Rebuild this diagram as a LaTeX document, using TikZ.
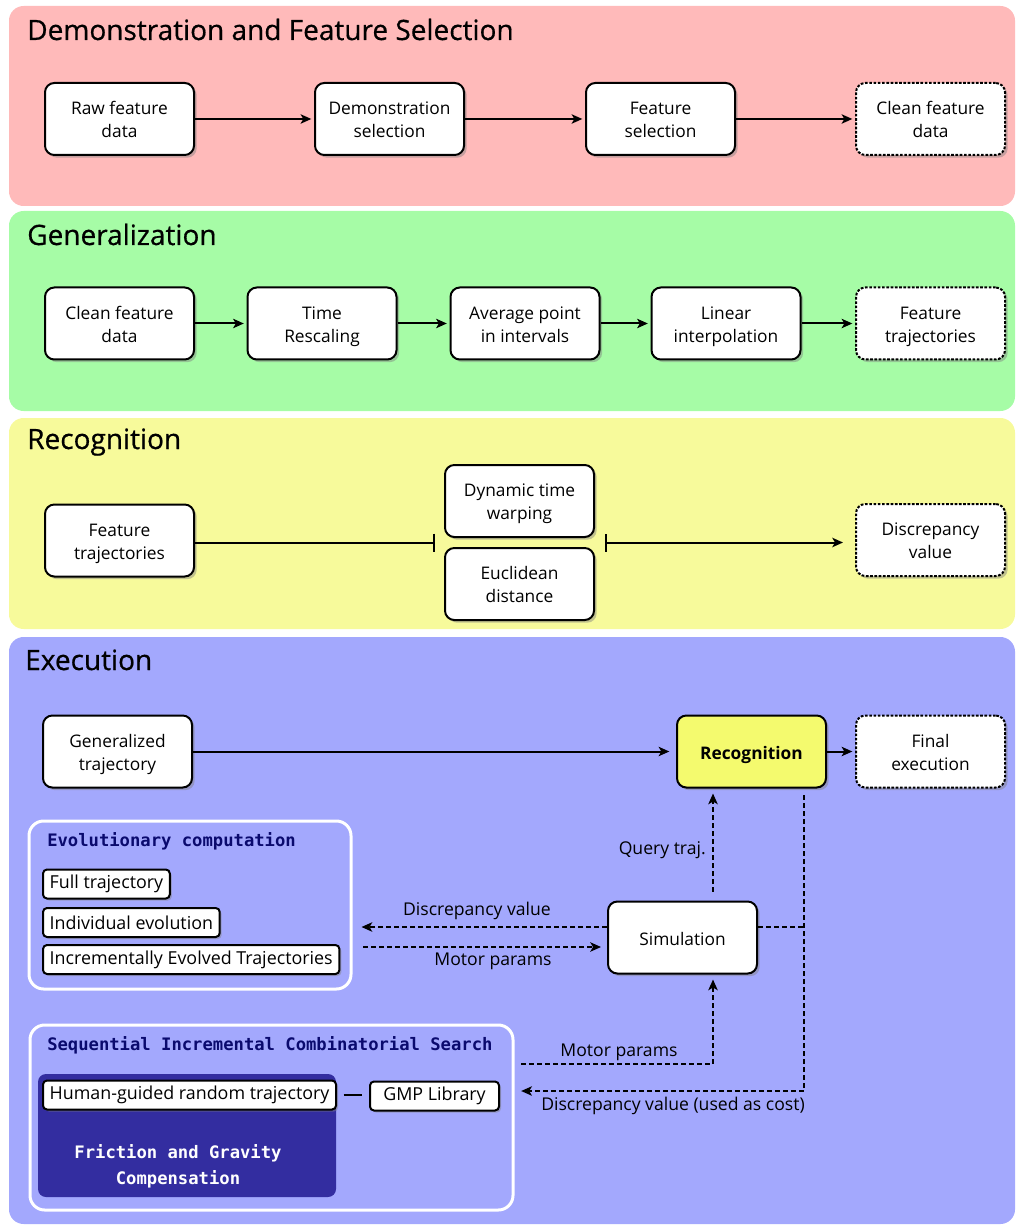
\documentclass[tikz,border=0pt]{standalone}
\usepackage{fontspec}
\setmainfont{Open Sans}
\newfontfamily\titlef{Open Sans}[FakeBold=0.6]
\newfontfamily\monof{DejaVu Sans Mono}
\usetikzlibrary{shadows,arrows.meta,calc}
\newcommand\bxtop{\rule{0pt}{15pt}}
\newcommand\bxtopb{\rule{0pt}{12pt}}
\newcommand\bxbot{\rule[-3.6pt]{0pt}{3.6pt}}
\newcommand\bxbotb{\rule[-1pt]{0pt}{1pt}}
\newcommand\twol[2]{\bxtopb #1\\#2\bxbotb}
\definecolor{pinkbg}{RGB}{255,186,186}
\definecolor{greenbg}{RGB}{166,252,166}
\definecolor{yellowbg}{RGB}{247,250,155}
\definecolor{bluebg}{RGB}{163,168,253}
\definecolor{darkbox}{RGB}{51,45,160}
\definecolor{navytxt}{RGB}{10,10,110}
\definecolor{recyellow}{RGB}{244,250,110}
\begin{document}
\begin{tikzpicture}[x=0.75pt,y=-0.75pt,
  panel/.style={rounded corners=11pt},
  ptitle/.style={anchor=base west, inner sep=0pt, font=\titlef\fontsize{21}{25}\selectfont},
  basebox/.style={draw=black, line width=1.5pt, fill=white, rounded corners=7pt,
    minimum width=111.75pt, minimum height=54pt, inner sep=0pt, align=center,
    font=\fontsize{13}{17.25}\selectfont,
    drop shadow={shadow xshift=2pt, shadow yshift=-2pt, opacity=0.45}},
  box/.style={basebox, text depth=1pt},
  onebox/.style={basebox, execute at begin node={\bxtop}, execute at end node={\bxbot}},
  dbox/.style={box, dash pattern=on 2pt off 1.2pt},
  sbox/.style={draw=black, line width=1.5pt, fill=white, rounded corners=3pt,
    inner xsep=5pt, inner ysep=0pt, minimum height=21.75pt, anchor=west,
    font=\fontsize{13.4}{15}\selectfont,
    drop shadow={shadow xshift=1.5pt, shadow yshift=-1.5pt, opacity=0.45}},
  container/.style={draw=white, line width=2.25pt, rounded corners=11pt, inner sep=0pt},
  mtitle/.style={anchor=base west, inner sep=0pt, text=navytxt, font=\monof\bfseries\fontsize{12.9}{15}\selectfont},
  lbl/.style={inner sep=0pt, font=\fontsize{13.2}{15}\selectfont},
  tip/.style={-{Stealth[length=8pt,width=7pt,inset=2pt]}},
  conn/.style={line width=1.5pt, tip},
  dconn/.style={conn, dash pattern=on 3.75pt off 2.25pt},
  dline/.style={line width=1.5pt, dash pattern=on 3.75pt off 2.25pt}
]
\useasboundingbox (0,0) rectangle (1015,1226);
% panels
\fill[pinkbg, panel] (9,6) rectangle (1015,206);
\fill[greenbg, panel] (9,211) rectangle (1015,411);
\fill[yellowbg, panel] (9,418) rectangle (1015,629);
\fill[bluebg, panel] (9,637) rectangle (1015,1224);
\node[ptitle] (t1) at (27,40) {Demonstration and Feature Selection};
\node[ptitle] (t2) at (27,245) {Generalization};
\node[ptitle] (t3) at (27,449) {Recognition};
\node[ptitle] (t4) at (25,670) {Execution};

% row 1
\node[box] (A1) at (119.5,119) {\twol{Raw feature}{data}};
\node[box] (A2) at (389.5,119) {\twol{Demonstration}{selection}};
\node[box] (A3) at (660.5,119) {\twol{Feature}{selection}};
\node[dbox] (A4) at (930.5,119) {\twol{Clean feature}{data}};
\draw[conn, shorten >=2pt] (A1) -- (A2);
\draw[conn, shorten >=2pt] (A2) -- (A3);
\draw[conn, shorten >=2pt] (A3) -- (A4);

% row 2
\node[box] (B1) at (119.5,323.5) {\twol{Clean feature}{data}};
\node[box] (B2) at (322,323.5) {\twol{Time}{Rescaling}};
\node[box] (B3) at (525,323.5) {\twol{Average point}{in intervals}};
\node[box] (B4) at (726,323.5) {\twol{Linear}{interpolation}};
\node[dbox] (B5) at (930.5,323.5) {\twol{Feature}{trajectories}};
\draw[conn, shorten >=2pt] (B1) -- (B2);
\draw[conn, shorten >=2pt] (B2) -- (B3);
\draw[conn, shorten >=2pt] (B3) -- (B4);
\draw[conn, shorten >=2pt] (B4) -- (B5);

% row 3
\node[box] (C1) at (119.5,540.5) {\twol{Feature}{trajectories}};
\node[box] (DTW) at (519.5,501) {\twol{Dynamic time}{warping}};
\node[box] (EUC) at (519.5,584) {\twol{Euclidean}{distance}};
\node[dbox] (DISC) at (930.5,540) {\twol{Discrepancy}{value}};
\coordinate (M) at ($(DTW.south)!0.5!(EUC.north)$);
\draw[line width=1.5pt, -{Bar[width=13.5pt]}, shorten >=6.75pt] (C1.east |- M) -- (DTW.west |- M);
\draw[line width=1.5pt, {Bar[width=13.5pt]}-{Stealth[length=8pt,width=7pt,inset=2pt]}, shorten <=7.5pt, shorten >=9pt] (DTW.east |- M) -- (DISC.west |- M);

% execution
\node[box] (G) at (117.5,751.5) {\twol{Generalized}{trajectory}};
\node[onebox, fill=recyellow, font=\bfseries\fontsize{13}{17.25}\selectfont] (R) at (751.5,751.5) {Recognition};
\node[dbox] (F) at (930.5,751.5) {\twol{Final}{execution}};
\node[onebox] (S) at (682.5,937.5) {Simulation};
\draw[conn, shorten >=5pt] (G) -- (R);
\draw[conn, shorten >=2pt] (R) -- (F);

% evolutionary computation container
\node[container, minimum width=241.5pt, minimum height=126pt] (EC) at (190,905) {};
\node[mtitle] (ECt) at (47,846) {Evolutionary computation};
\node[sbox] (E1) at (42,884) {Full trajectory};
\node[sbox] (E2) at (42,922.5) {Individual evolution\hspace{8pt}};
\node[sbox] (E3) at (42,959.5) {Incrementally Evolved Trajectories};

% SICS container
\node[container, minimum width=362.25pt, minimum height=138.75pt] (SICS) at (271.5,1117.5) {};
\node[mtitle] (SICSt) at (47,1050) {Sequential Incremental Combinatorial Search};
\node[fill=darkbox, rounded corners=6pt, minimum width=223.5pt, minimum height=92.25pt, inner sep=0pt] (DK) at (187,1135.5) {};
\node[sbox] (HG) at (42,1095) {Human-guided random trajectory};
\node[sbox, minimum width=96.75pt] (GMP) at (369,1096) {GMP Library};
\draw[line width=1.2pt, shorten <=5pt, shorten >=5pt] (HG.east) -- (GMP.west |- HG.east);
\node[inner sep=0pt, align=center, text=white, font=\monof\bfseries\fontsize{12.9}{19.5}\selectfont] (FG) at (178,1166) {Friction and Gravity\\Compensation};

% dashed connectors
\coordinate (QX) at (713,0);
\coordinate (J1) at (804,927);
\coordinate (J2) at (804,1091);
\coordinate (J3) at (713,1064);
\draw[dconn, shorten <=6.75pt, shorten >=3.75pt] (S.north -| QX) -- (R.south -| QX);
\node[lbl, anchor=east] (qt) at (706,850) {Query traj.};
\draw[dconn, shorten >=6.75pt] (S.west |- J1) -- (EC.east |- J1);
\node[lbl] (dv1) at (477,911) {Discrepancy value};
\draw[dconn, shorten <=8pt, shorten >=4.5pt] (EC.east |- 0,947) -- (S.west |- 0,947);
\node[lbl] (mp1) at (493,961) {Motor params};
\draw[dline] (S.east |- J1) -- (J1);
\draw[dconn, shorten <=5pt, shorten >=5pt] (R.south -| J1) -- (J2) -- (SICS.east |- J2);
\node[lbl] (dv2) at (673,1106) {Discrepancy value (used as cost)};
\draw[dconn, shorten <=5pt, shorten >=3.75pt] (SICS.east |- J3) -- (J3) -- (S.south -| J3);
\node[lbl] (mp2) at (619,1052) {Motor params};
\end{tikzpicture}
\end{document}
